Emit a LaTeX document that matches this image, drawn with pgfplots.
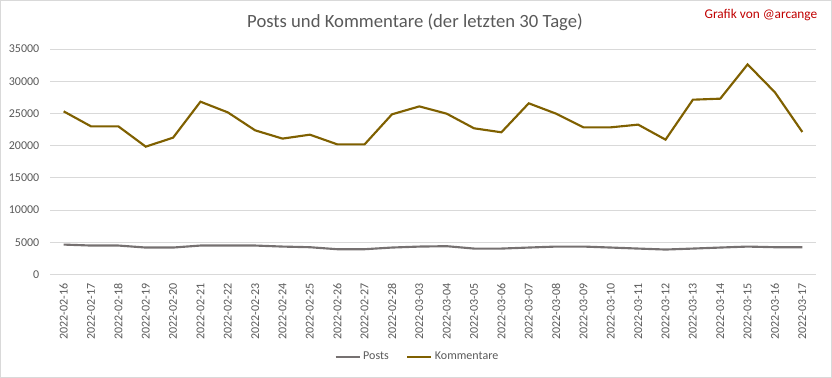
\documentclass[border=0pt]{standalone}
\usepackage{pgfplots}
\pgfplotsset{compat=1.18}
\usepackage{fontspec}
\setmainfont{Carlito}
\definecolor{komm}{HTML}{7F6000}
\definecolor{posts}{HTML}{767171}
\definecolor{txt}{HTML}{595959}
\definecolor{gridc}{HTML}{D9D9D9}
\definecolor{redc}{HTML}{C00000}
\pgfplotstableread{
x posts komm
0  4650 25330
1  4500 23000
2  4500 23000
3  4190 19850
4  4190 21250
5  4500 26830
6  4500 25170
7  4500 22380
8  4340 21100
9  4240 21710
10 3930 20210
11 3930 20210
12 4190 24870
13 4340 26100
14 4400 24970
15 4030 22700
16 4030 22080
17 4190 26580
18 4340 24970
19 4340 22850
20 4190 22850
21 4030 23270
22 3880 20940
23 4030 27140
24 4190 27300
25 4340 32620
26 4240 28280
27 4240 22130
}\datatab
\begin{document}
\begin{tikzpicture}
\useasboundingbox (-37.5pt,-77.6pt) rectangle (586.5pt,205.9pt);
\draw[gridc, line width=0.75pt] (-37.1pt,-77.2pt) rectangle (586.1pt,205.5pt);
\begin{axis}[
  at={(0pt,0pt)}, anchor=south west,
  scale only axis, width=574.5pt, height=169.1pt,
  xmin=-0.5, xmax=27.5, ymin=0, ymax=35000,
  ytick={0,5000,...,35000},
  xtick={0,...,27},
  xticklabels={2022-02-16,2022-02-17,2022-02-18,2022-02-19,2022-02-20,2022-02-21,2022-02-22,2022-02-23,2022-02-24,2022-02-25,2022-02-26,2022-02-27,2022-02-28,2022-03-03,2022-03-04,2022-03-05,2022-03-06,2022-03-07,2022-03-08,2022-03-09,2022-03-10,2022-03-11,2022-03-12,2022-03-13,2022-03-14,2022-03-15,2022-03-16,2022-03-17},
  x tick label style={rotate=90, anchor=east, font=\fontsize{9}{10}\selectfont, text=txt},
  y tick label style={font=\fontsize{9}{10}\selectfont, text=txt},
  xticklabel shift=3.4pt, yticklabel shift=4.5pt,
  scaled ticks=false,
  /pgf/number format/.cd, 1000 sep={}, assume math mode=true, /pgfplots/.cd,
  ymajorgrids, major grid style={gridc, line width=0.75pt},
  axis line style={draw=none}, tick style={draw=none},
  title={Posts und Kommentare (der letzten 30 Tage)},
  title style={at={(axis description cs:0.4765,1.0843)}, anchor=center, font=\fontsize{14}{16}\selectfont, text=txt},
  legend columns=2,
  legend style={at={(axis description cs:0.480,-0.366)}, anchor=center, draw=none, fill=none, font=\fontsize{9}{10}\selectfont, text=txt, /tikz/every even column/.append style={column sep=11pt}},
  legend image code/.code={\draw[#1] (0pt,0pt) -- (18pt,0pt);},
  clip=false,
]
\addplot[posts, line width=1.6pt] table[x=x, y=posts] {\datatab};
\addlegendentry{Posts}
\addplot[komm, line width=1.6pt] table[x=x, y=komm] {\datatab};
\addlegendentry{Kommentare}
\node[anchor=east, font=\fontsize{10}{12}\selectfont, text=redc] at (axis description cs:1.0078,1.1507) {Grafik von @arcange};
\end{axis}
\end{tikzpicture}
\end{document}
